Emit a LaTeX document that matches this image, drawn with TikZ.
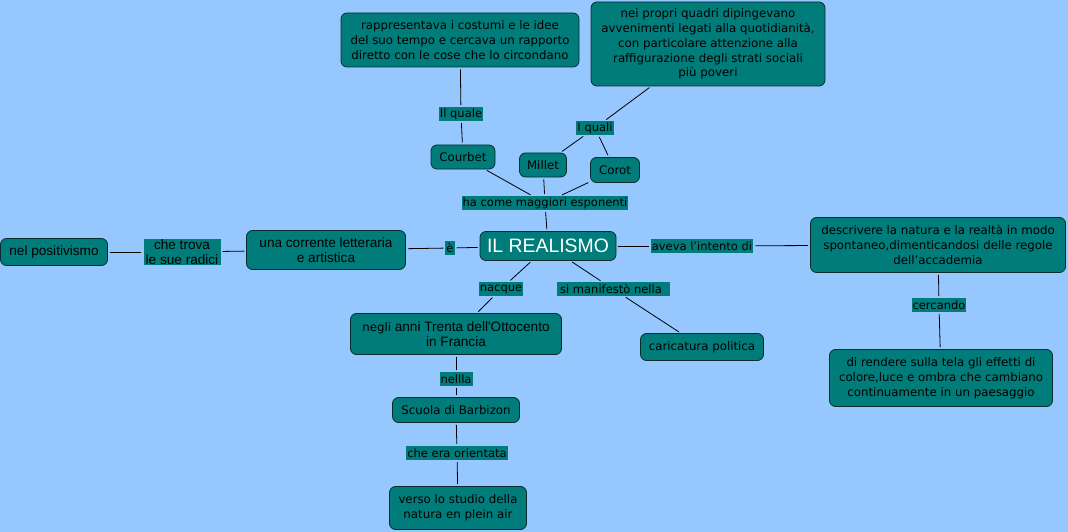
\documentclass[tikz,border=0pt]{standalone}
\usepackage{fontspec}
\setmainfont{DejaVu Sans}
\newfontfamily\tahomafont{Liberation Sans}
\usetikzlibrary{positioning}
\definecolor{MapSky}{HTML}{96C8FF}
\definecolor{MapTeal}{HTML}{007D7A}
\definecolor{MapEdge}{HTML}{0B2B2B}
\tikzset{
    % Concept boxes - rounded
    concept/.style={
        rectangle,
        rounded corners=6pt,
        draw=MapEdge,
        fill=MapTeal,
        line width=0.8pt,
        align=center,
        inner sep=2pt,
        font=\fontsize{11.8}{14.8}\selectfont
    },
    narrowconcept/.style={
        concept,
        font=\tahomafont\fontsize{13.6}{15.5}\selectfont
    },
    % Linking phrases - no border
    linklabel/.style={
        rectangle,
        fill=MapTeal,
        inner sep=1pt,
        minimum height=14pt,
        align=center,
        font=\fontsize{11.5}{13.5}\selectfont
    },
    % Connectors - plain lines
    link/.style={
        draw=black,
        line width=0.8pt,
        shorten <=2pt,
        shorten >=2pt
    }
}
\begin{document}
\begin{tikzpicture}[x=1pt, y=-1pt]
    \fill[MapSky] (0,0) rectangle (1068,532);
    \useasboundingbox (0,0) rectangle (1068,532);

    \node[narrowconcept, minimum width=136pt, minimum height=29pt, text=white,
          font=\tahomafont\fontsize{19.4}{21}\selectfont] (realismo) at (548,246) {IL REALISMO};

    % upper branch
    \node[concept, minimum width=238pt, minimum height=54pt] (costumi) at (460,40)
        {rappresentava i costumi e le idee\\del suo tempo e cercava un rapporto\\diretto con le cose che lo circondano};
    \node[concept, minimum width=234pt, minimum height=84pt] (quadri) at (708,44)
        {nei propri quadri dipingevano\\avvenimenti legati alla quotidianit\`a,\\con particolare attenzione alla\\raffigurazione degli strati sociali\\pi\`u poveri};
    \node[linklabel] (ilquale) at (461,114) {Il quale};
    \node[linklabel] (iquali) at (595,128) {I quali};
    \node[concept, minimum width=64pt, minimum height=24pt] (courbet) at (463,157) {Courbet};
    \node[concept, minimum width=47pt, minimum height=24pt] (millet) at (543,165) {Millet};
    \node[concept, minimum width=49pt, minimum height=25pt] (corot) at (615,170) {Corot};
    \node[linklabel] (esponenti) at (545,203) {ha come maggiori esponenti};

    % left branch
    \node[linklabel] (e) at (450,248) {\`e};
    \node[narrowconcept, minimum width=159pt, minimum height=39pt] (corrente) at (326,250)
        {una corrente letteraria\\e artistica};
    \node[linklabel, font=\tahomafont\fontsize{13.6}{14.5}\selectfont, minimum width=77pt] (radici) at (182,252)
        {che trova\\le sue radici};
    \node[narrowconcept, minimum width=107pt, minimum height=27pt] (positivismo) at (54,252) {nel positivismo};

    % right branch
    \node[linklabel] (intento) at (702,246) {aveva l'intento di};
    \node[concept, minimum width=255pt, minimum height=55pt] (natura) at (938,245)
        {descrivere la natura e la realt\`a in modo\\spontaneo,dimenticandosi delle regole\\dell'accademia};
    \node[linklabel] (cercando) at (939,305) {cercando};
    \node[concept, minimum width=223pt, minimum height=57pt] (tela) at (941,378)
        {di rendere sulla tela gli effetti di\\colore,luce e ombra che cambiano\\continuamente in un paesaggio};

    % lower branch
    \node[linklabel] (nacque) at (501,289) {nacque};
    \node[linklabel, minimum width=113pt] (manifesto) at (613,289) {si manifest\`o nella\hspace*{4pt}};
    \node[concept, minimum width=211pt, minimum height=41pt] (anni) at (456,334)
        {negli {\tahomafont\fontsize{13.6}{15.5}\selectfont anni Trenta dell'Ottocento}\\{\tahomafont\fontsize{13.6}{15.5}\selectfont in Francia}};
    \node[concept, minimum width=123pt, minimum height=27pt] (caricatura) at (702,347) {caricatura politica};
    \node[linklabel] (nellla) at (456,379) {nellla};
    \node[concept, minimum width=127pt, minimum height=25pt] (barbizon) at (456,410) {Scuola di Barbizon};
    \node[linklabel] (orientata) at (457,453) {che era orientata};
    \node[concept, minimum width=137pt, minimum height=43pt] (pleinair) at (458,508)
        {verso lo studio della\\natura en plein air};

    \draw[link] (costumi) -- (ilquale);
    \draw[link] (ilquale) -- (courbet);
    \draw[link] (quadri) -- (iquali);
    \draw[link] (iquali) -- (millet);
    \draw[link] (iquali) -- (corot);
    \draw[link] (courbet) -- (esponenti);
    \draw[link] (millet) -- (esponenti);
    \draw[link] (corot) -- (esponenti);
    \draw[link] (esponenti) -- (realismo);

    \draw[link] (realismo) -- (e);
    \draw[link] (e) -- (corrente);
    \draw[link] (corrente) -- (radici);
    \draw[link] (radici) -- (positivismo);

    \draw[link] (realismo) -- (intento);
    \draw[link] (intento) -- (natura);
    \draw[link] (natura) -- (cercando);
    \draw[link] (cercando) -- (tela);

    \draw[link] (realismo) -- (nacque);
    \draw[link] (nacque) -- (anni);
    \draw[link] (realismo) -- (manifesto);
    \draw[link] (manifesto) -- (caricatura);
    \draw[link] (anni) -- (nellla);
    \draw[link] (nellla) -- (barbizon);
    \draw[link] (barbizon) -- (orientata);
    \draw[link] (orientata) -- (pleinair);
\end{tikzpicture}
\end{document}
